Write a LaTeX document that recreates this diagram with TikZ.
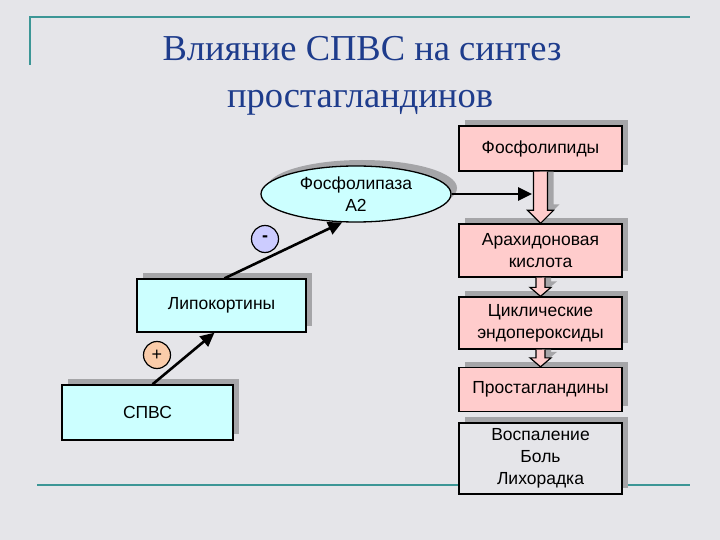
\documentclass[tikz,border=0pt]{standalone}
\usepackage{fontspec}
\setmainfont{Liberation Serif}
\setsansfont{Liberation Sans}
\usetikzlibrary{shapes.geometric,shadows,arrows.meta,calc}
\definecolor{bgc}{RGB}{229,229,233}
\definecolor{tealc}{RGB}{60,150,150}
\definecolor{titlec}{RGB}{30,60,140}
\definecolor{pinkc}{RGB}{255,204,204}
\definecolor{cyanc}{RGB}{204,255,255}
\definecolor{lavc}{RGB}{204,204,255}
\definecolor{peachc}{RGB}{250,204,170}
\definecolor{shadc}{RGB}{165,165,168}
\newcommand{\blockarrow}[5]{%
  \fill[shadc] let \p1=(#1.south), \p2=(#2.north) in
    (\x1-#3+6pt,\y1) -- (\x1-#3+6pt,\y2+#5+6pt) -- (\x1-#4+6pt,\y2+#5+6pt) -- (\x1+6pt,\y2+6pt)
    -- (\x1+#4+6pt,\y2+#5+6pt) -- (\x1+#3+6pt,\y2+#5+6pt) -- (\x1+#3+6pt,\y1) -- cycle;
  \filldraw[fill=pinkc, draw=black, line width=1.2pt, line join=miter] let \p1=(#1.south), \p2=(#2.north) in
    (\x1-#3,\y1) -- (\x1-#3,\y2+#5) -- (\x1-#4,\y2+#5) -- (\x1,\y2)
    -- (\x1+#4,\y2+#5) -- (\x1+#3,\y2+#5) -- (\x1+#3,\y1);
}
\tikzset{
  shad/.style={drop shadow={shadow xshift=6pt, shadow yshift=6pt, fill=shadc, opacity=1}},
  boxfont/.style={font=\sffamily\fontsize{17.5}{22}\selectfont},
  box/.style={draw=black, line width=1.3pt, align=center, inner sep=0pt, boxfont, shad},
  rbox/.style={box, fill=pinkc, minimum width=163pt},
  cbox/.style={box, fill=cyanc},
  sign/.style={circle, draw=black, line width=1.2pt, minimum size=27pt, inner sep=0pt,
    font=\sffamily\fontsize{18}{18}\selectfont},
  conn/.style={line width=2.6pt, -{Triangle[length=14pt,width=13pt]}},
  titletext/.style={text=titlec, font=\fontsize{36.5}{40}\selectfont},
}
\begin{document}
\begin{tikzpicture}[x=1pt,y=-1pt]
\fill[bgc] (0,0) rectangle (720,540);
\useasboundingbox (0,0) rectangle (720,540);
\draw[tealc, line width=2.5pt] (30,65) -- (30,17) -- (690,17);
\draw[tealc, line width=2.5pt] (37,485) -- (690,485);
\node[titletext] (t1) at (362,49) {Влияние СПВС на синтез};
\node[titletext] (t2) at (360,103) {простагландинов};
% right column
\node[rbox, minimum height=45pt] (ph) at (540.5,148.5) {Фосфолипиды};
\node[rbox, minimum height=53pt] (ak) at (540.5,250.5) {Арахидоновая\\кислота};
\node[rbox, minimum height=52pt] (ce) at (540.5,323) {Циклические\\эндопероксиды};
\node[rbox, minimum height=44pt] (pg) at (540.5,389.5) {Простагландины};
\node[box, fill=bgc, minimum width=163pt, minimum height=71pt] (vb) at (540.5,458.5) {Воспаление\\Боль\\Лихорадка};
% block arrows
\blockarrow{ph}{ak}{7pt}{13pt}{13pt}
\blockarrow{ak}{ce}{4.5pt}{10.5pt}{9pt}
\blockarrow{ce}{pg}{4.5pt}{10.5pt}{9pt}
% left part
\node[ellipse, draw=black, line width=1.3pt, fill=cyanc, shad, minimum width=190pt, minimum height=56pt,
  inner sep=0pt, align=center, boxfont] (pl) at (356,194) {Фосфолипаза\\А2};
\node[cbox, minimum width=169pt, minimum height=53pt] (lc) at (221.5,305.5) {Липокортины};
\node[cbox, minimum width=171pt, minimum height=55pt] (sp) at (147.5,412.5) {СПВС};
\node[sign, fill=lavc] (mi) at (265,239) {\bfseries -};
\node[sign, fill=peachc] (pl2) at (157,355) {+};
\coordinate (a1) at (532,194);
\draw[conn] (pl.east) -- (a1);
\draw[conn] ([xshift=3pt]lc.north) -- (pl.244);
\draw[conn] ([xshift=5pt]sp.north) -- ([xshift=-7pt]lc.south);
\end{tikzpicture}
\end{document}
